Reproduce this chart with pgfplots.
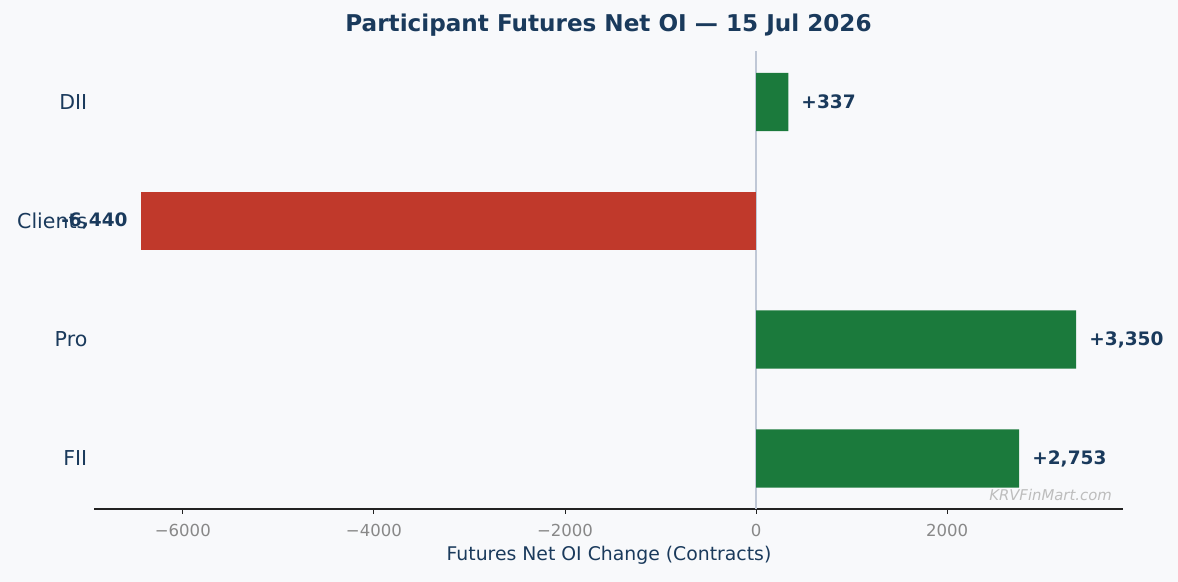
\documentclass[border=0pt]{standalone}
\usepackage{pgfplots}
\pgfplotsset{compat=1.18}
\usepackage{fontspec}
\setmainfont{DejaVu Sans}
\definecolor{bg}{HTML}{F8F9FB}
\definecolor{navy}{HTML}{1A3A5C}
\definecolor{barg}{HTML}{1B7A3C}
\definecolor{barr}{HTML}{C0392B}
\definecolor{zline}{HTML}{C0C8D6}
\definecolor{tickg}{HTML}{888888}
\definecolor{spine}{HTML}{222222}
\definecolor{wm}{HTML}{BDBDBD}
\pgfplotstableread{
y x lab
0 2753 +2,753
1 3350 +3,350
3 337 +337
}\pos
\pgfplotstableread{
y x lab
2 -6440 -6,440
}\neg
\begin{document}
\begin{tikzpicture}[x=1bp,y=1bp]
\fill[bg] (0,0) rectangle (1178,582);
\begin{axis}[
  at={(94bp,73bp)}, anchor=south west,
  scale only axis, width=1029bp, height=457.6bp,
  xmin=-6929.5, xmax=3839.5, ymin=-0.425, ymax=3.425,
  axis x line*=bottom, axis y line*=left,
  y axis line style={draw=none},
  x axis line style={draw=spine, line width=1.5bp},
  ytick={0,1,2,3}, yticklabels={FII,Pro,Clients,DII},
  xtick={-6000,-4000,-2000,0,2000},
  xticklabels={−6000,−4000,−2000,0,2000},
  major tick length=5bp,
  tick align=outside,
  xtick style={draw=spine, line width=0.9bp},
  ytick style={draw=none},
  xticklabel style={font=\fontsize{16.6}{19}\selectfont, text=tickg, inner sep=0pt, yshift=-10bp},
  yticklabel style={font=\fontsize{20.6}{24}\selectfont, text=navy, anchor=east, inner sep=0pt, xshift=-1.5bp},
  clip=false,
  point meta=explicit symbolic,
]
\draw[draw=zline, line width=1.3bp] (axis cs:0,-0.425) -- (axis cs:0,3.425);
\addplot[xbar, bar width=0.49, bar shift=0, fill=barg, draw=none, nodes near coords,
  every node near coord/.append style={anchor=west, xshift=13bp, inner sep=0pt, text=navy, font=\fontsize{18.6}{21}\selectfont\bfseries}]
  table[x=x, y=y, meta=lab] {\pos};
\addplot[xbar, bar width=0.49, bar shift=0, fill=barr, draw=none, nodes near coords,
  every node near coord/.append style={anchor=east, xshift=-13bp, inner sep=0pt, text=navy, font=\fontsize{18.6}{21}\selectfont\bfseries}]
  table[x=x, y=y, meta=lab] {\neg};
\end{axis}
\node[anchor=base, text=navy, font=\fontsize{23.2}{27}\selectfont\bfseries] at (608.5, 582-32) {Participant Futures Net OI — 15 Jul 2026};
\node[anchor=base, text=navy, font=\fontsize{18.9}{22}\selectfont] at (609, 582-561) {Futures Net OI Change (Contracts)};
\node[anchor=base east, text=wm, font=\fontsize{14.9}{18}\selectfont\itshape, inner sep=0pt] at (1112, 582-501) {KRVFinMart.com};
\end{tikzpicture}
\end{document}
